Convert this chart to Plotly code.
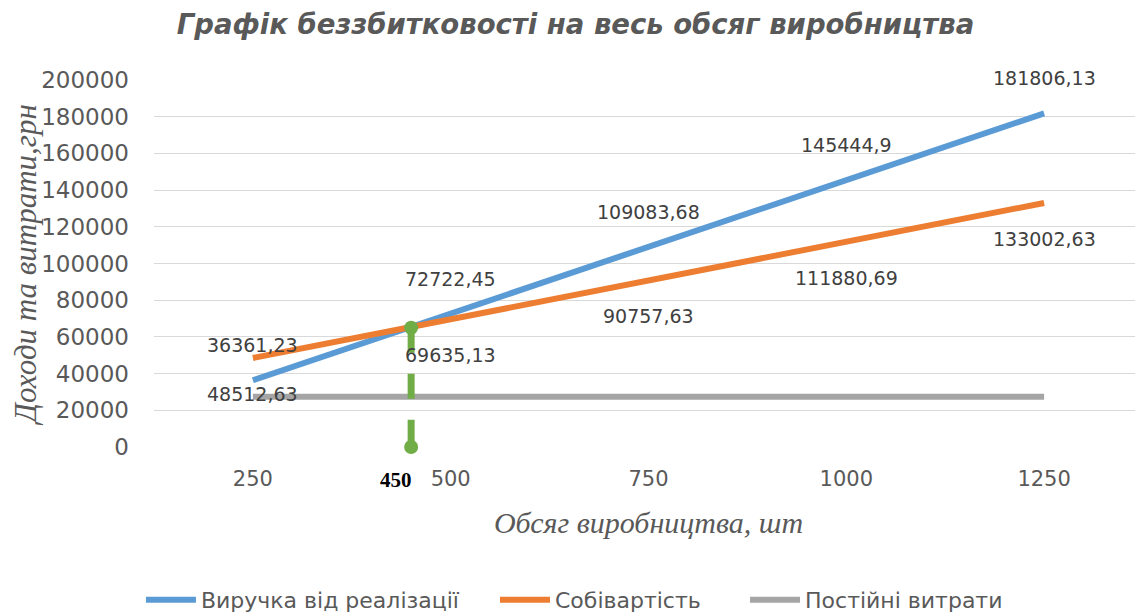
import plotly.graph_objects as go

volumes = [250, 500, 750, 1000, 1250]
revenue = [36361.23, 72722.45, 109083.68, 145444.9, 181806.13]
cost = [48512.63, 69635.13, 90757.63, 111880.69, 133002.63]
fixed = [27390.13, 27390.13, 27390.13, 27390.13, 27390.13]
breakeven_x = [450, 450]
breakeven_y = [65000, 0]
y_ticks = [0, 20000, 40000, 60000, 80000, 100000, 120000, 140000, 160000, 180000, 200000]

title = "Графік беззбитковості на весь обсяг виробництва"
x_title = "Обсяг виробництва, шт"
y_title = "Доходи та витрати,грн"
names = ["Виручка від реалізації", "Собівартість", "Постійні витрати"]

BLUE, ORANGE, GRAY, GREEN = "#5B9BD5", "#ED7D31", "#A5A5A5", "#70AD47"
SANS = "DejaVu Sans"
SERIF = "Liberation Serif"

# page body has an 8px default margin; the figure is sized to fill the rest
W, H = 1135, 607
PLOT_H = 367


def fmt(v):
    s = ("%.2f" % v).rstrip("0").rstrip(".")
    return s.replace(".", ",")


fig = go.Figure()
fig.add_trace(go.Scatter(x=volumes, y=revenue, mode="lines", name=names[0],
                         line=dict(color=BLUE, width=6), legend="legend"))
fig.add_trace(go.Scatter(x=volumes, y=cost, mode="lines", name=names[1],
                         line=dict(color=ORANGE, width=6), legend="legend2"))
fig.add_trace(go.Scatter(x=volumes, y=fixed, mode="lines", name=names[2],
                         line=dict(color=GRAY, width=6), legend="legend3"))
fig.add_trace(go.Scatter(x=breakeven_x, y=breakeven_y, mode="lines+markers",
                         showlegend=False, cliponaxis=False,
                         line=dict(color=GREEN, width=7, dash="25px,21px"),
                         marker=dict(color=GREEN, size=14)))

annotations = []
for xv, yv in zip(volumes, revenue):
    annotations.append(dict(x=xv, y=yv, xref="x", yref="y", text=fmt(yv),
                            showarrow=False, yshift=35,
                            font=dict(family=SANS, size=19, color="#404040")))
for xv, yv in zip(volumes, cost):
    annotations.append(dict(x=xv, y=yv, xref="x", yref="y", text=fmt(yv),
                            showarrow=False, yshift=-36,
                            font=dict(family=SANS, size=19, color="#404040")))
annotations.append(dict(x=breakeven_x[0], y=-33 / PLOT_H, xref="x", yref="paper",
                        text="<b>%d</b>" % breakeven_x[0], showarrow=False,
                        xshift=-15, yanchor="middle",
                        font=dict(family=SERIF, size=21, color="#000000")))

legend_font = dict(family=SANS, size=22, color="#595959")
legend_y = 1 - 592 / H


def legend_at(x):
    return dict(orientation="h", x=x, xanchor="left", y=legend_y, yanchor="middle",
                yref="container", font=legend_font, itemwidth=50,
                bgcolor="rgba(0,0,0,0)")


fig.update_layout(
    width=W, height=H,
    margin=dict(l=146, r=0, t=72, b=168),
    paper_bgcolor="white", plot_bgcolor="white",
    title=dict(text="<b><i>" + title + "</i></b>", x=0.5, xanchor="center",
               y=1 - 16 / H, yanchor="middle",
               font=dict(family=SANS, size=27.5, color="#595959")),
    xaxis=dict(range=[125, 1375], tickvals=volumes, ticktext=[str(v) for v in volumes],
               showgrid=False, zeroline=False, showline=False, automargin=False,
               tickfont=dict(family=SANS, size=21, color="#595959"),
               ticks="", ticklabelstandoff=17,
               title=dict(text="<i>" + x_title + "</i>", standoff=21,
                          font=dict(family=SERIF, size=30, color="#595959"))),
    yaxis=dict(range=[0, 200000], tickvals=y_ticks, ticktext=[str(v) for v in y_ticks],
               showgrid=True, gridcolor="#D9D9D9", gridwidth=1,
               zeroline=False, showline=False, automargin=False,
               tickfont=dict(family=SANS, size=23, color="#595959"),
               ticks="", ticklabelstandoff=24,
               title=dict(text="<i>" + y_title + "</i>", standoff=14,
                          font=dict(family=SERIF, size=31, color="#595959"))),
    legend=legend_at(-0.0132),
    legend2=legend_at(0.3448),
    legend3=legend_at(0.5976),
    annotations=annotations,
    showlegend=True,
)

fig.write_html("out.html")
